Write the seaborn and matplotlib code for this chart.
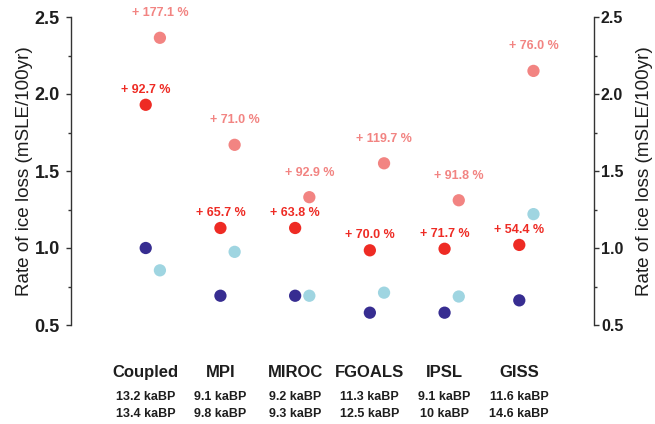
import numpy as np
import pandas as pd
import matplotlib
matplotlib.use("Agg")
import matplotlib.pyplot as plt
import seaborn as sns
from matplotlib.ticker import MultipleLocator

models = ["Coupled", "MPI", "MIROC", "FGOALS", "IPSL", "GISS"]
age_a = ["13.2 kaBP", "9.1 kaBP", "9.2 kaBP", "11.3 kaBP", "9.1 kaBP", "11.6 kaBP"]
age_b = ["13.4 kaBP", "9.8 kaBP", "9.3 kaBP", "12.5 kaBP", "10 kaBP", "14.6 kaBP"]

base_a = [1.00, 0.69, 0.69, 0.58, 0.58, 0.66]      # dark blue
peak_a = [1.93, 1.13, 1.13, 0.985, 0.995, 1.02]    # red
base_b = [0.855, 0.975, 0.69, 0.71, 0.685, 1.22]   # light blue
peak_b = [2.365, 1.67, 1.33, 1.55, 1.31, 2.15]     # pink
pct_a = ["+ 92.7 %", "+ 65.7 %", "+ 63.8 %", "+ 70.0 %", "+ 71.7 %", "+ 54.4 %"]
pct_b = ["+ 177.1 %", "+ 71.0 %", "+ 92.9 %", "+ 119.7 %", "+ 91.8 %", "+ 76.0 %"]

c_dark = "#372d91"
c_red = "#ee2b24"
c_light = "#9fd5e1"
c_pink = "#f28482"
c_text = "#1e1e1e"

sns.set_style("white")
plt.rcParams["font.family"] = ["Liberation Sans", "DejaVu Sans"]

fig = plt.figure(figsize=(6.55, 4.24), dpi=100)
ax = fig.add_axes([71 / 655, 1 - 325 / 424, (594 - 71) / 655, (325 - 17) / 424])

off = 0.19
idx = np.arange(len(models))
rows = []
for series, vals, dx in [("base_a", base_a, 0.0), ("peak_a", peak_a, 0.0),
                         ("base_b", base_b, off), ("peak_b", peak_b, off)]:
    for i, v in enumerate(vals):
        rows.append({"x": i + dx, "value": v, "series": series})
df = pd.DataFrame(rows)

pal = {"base_a": c_dark, "peak_a": c_red, "base_b": c_light, "peak_b": c_pink}
sns.scatterplot(data=df, x="x", y="value", hue="series", palette=pal, s=78,
                edgecolor="none", linewidth=0, legend=False, ax=ax, clip_on=False, zorder=3)

for i in idx:
    ax.text(i, peak_a[i] + 0.06, pct_a[i], ha="center", va="bottom", color=c_red,
            fontsize=9, fontweight="bold", clip_on=False)
    ax.text(i + off, peak_b[i] + 0.12, pct_b[i], ha="center", va="bottom", color=c_pink,
            fontsize=9, fontweight="bold", clip_on=False)

trans = ax.get_xaxis_transform()
for i in idx:
    ax.text(i, -0.153, models[i], ha="center", va="center", fontsize=12,
            fontweight="bold", transform=trans, color=c_text)
    ax.text(i, -0.234, age_a[i], ha="center", va="center", fontsize=9,
            fontweight="bold", transform=trans, color=c_text)
    ax.text(i, -0.288, age_b[i], ha="center", va="center", fontsize=9,
            fontweight="bold", transform=trans, color=c_text)

ax.set_xlim(-1, 6)
ax.set_ylim(0.5, 2.5)
ax.set_xlabel("")
ax.set_xticks([])

ticks = [0.5, 1.0, 1.5, 2.0, 2.5]
ticklabels = ["0.5", "1.0", "1.5", "2.0", "2.5"]


def style_axis(a, side, labelsize, pad, labelpad):
    for s in ["top", "bottom", "left", "right"]:
        a.spines[s].set_visible(s == side)
    a.spines[side].set_color("#333333")
    a.spines[side].set_linewidth(1.0)
    a.yaxis.set_major_locator(MultipleLocator(0.5))
    a.yaxis.set_minor_locator(MultipleLocator(0.25))
    a.tick_params(axis="y", which="major", direction="out", length=3.5, width=1,
                  color="#333333", labelsize=labelsize, pad=pad)
    a.tick_params(axis="y", which="minor", direction="out", length=2.5, width=1,
                  color="#333333")
    a.set_yticks(ticks)
    a.set_yticklabels(ticklabels, fontweight="bold", color=c_text)
    a.set_ylabel("Rate of ice loss (mSLE/100yr)", fontsize=13.6, color=c_text,
                 labelpad=labelpad)
    a.set_xticks([])


style_axis(ax, "left", 13, 4.5, 1.0)
ax2 = ax.twinx()
ax2.set_ylim(0.5, 2.5)
style_axis(ax2, "right", 11.5, 1.5, 9.0)

fig.savefig("out.png", dpi=100)
